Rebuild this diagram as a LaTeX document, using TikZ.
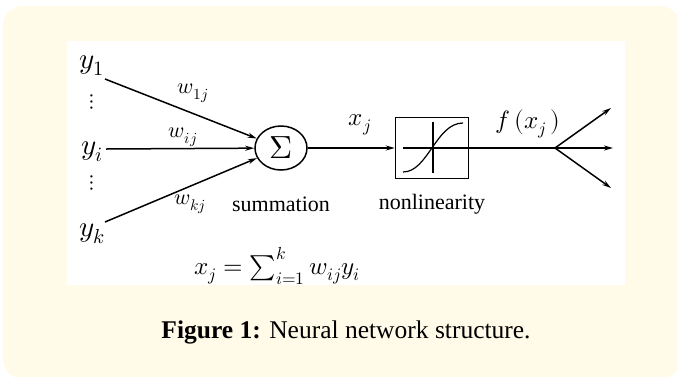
\documentclass[tikz,border=0pt]{standalone}
\usepackage{fontspec}
\setmainfont{Liberation Serif}
\usepackage{unicode-math}
\setmathfont{Latin Modern Math}
\usetikzlibrary{arrows.meta,shapes.geometric}
\definecolor{cream}{HTML}{FFFBE8}
\tikzset{
  conn/.style={line width=1.5pt,-{Stealth[length=9pt,width=5pt]}},
  plain/.style={line width=1.5pt},
  lbl/.style={inner sep=0pt},
  ylbl/.style={lbl,font=\fontsize{29}{29}\selectfont},
  wlbl/.style={lbl,font=\fontsize{22}{22}\selectfont},
  word/.style={lbl,font=\fontsize{22}{22}\selectfont},
}
\begin{document}
\begin{tikzpicture}[x=1pt,y=-1pt]
\useasboundingbox (0,0) rectangle (677,376);
\fill[white] (0,0) rectangle (677,376);
\fill[cream,rounded corners=20pt] (3,6) rectangle (680,379);
\fill[white] (67,41) rectangle (625,285);
% inputs
\node[ylbl] (y1) at (92,66) {$y_1$};
\node[ylbl] (yi) at (92,152) {$y_i$};
\node[ylbl] (yk) at (92,234) {$y_k$};
\node[lbl,font=\fontsize{22}{22}\selectfont] (d1) at (92,102) {$\vdots$};
\node[lbl,font=\fontsize{22}{22}\selectfont] (d2) at (92,183) {$\vdots$};
\coordinate (s1) at (105,79);
\coordinate (si) at (106,149);
\coordinate (sk) at (105,222);
% summation
\node[ellipse,draw,line width=1.5pt,minimum width=52pt,minimum height=44pt,inner sep=0pt,font=\fontsize{32}{32}\selectfont] (sig) at (281,148) {$\Sigma$};
\draw[conn] (s1) -- (sig);
\draw[conn] (si) -- (sig);
\draw[conn] (sk) -- (sig);
\node[wlbl] (w1) at (193,93) {$w_{1j}$};
\node[wlbl] (wi) at (183,137) {$w_{ij}$};
\node[wlbl] (wk) at (190,204) {$w_{kj}$};
\node[word] (sumlbl) at (281,204) {summation};
% nonlinearity
\node[rectangle,draw,line width=1.5pt,minimum width=73pt,minimum height=61pt,inner sep=0pt] (box) at (432,148) {};
\draw[conn] (sig) -- (box);
\node[lbl,font=\fontsize{25}{25}\selectfont] (xj) at (360,125) {$x_j$};
\draw[line width=1.2pt] (403,148) -- (box.east);
\draw[line width=1.2pt] (433,122) -- (433,173);
\draw[line width=1.2pt] (403,172) .. controls (428,172) and (436,123) .. (463,123);
\node[word] (nllbl) at (432,204) {nonlinearity};
% output
\coordinate (br) at (555,148);
\coordinate (o1) at (611,108);
\coordinate (o2) at (613,148);
\coordinate (o3) at (611,188);
\draw[plain] (box) -- (br);
\draw[conn] (br) -- (o1);
\draw[conn] (br) -- (o2);
\draw[conn] (br) -- (o3);
\node[lbl,font=\fontsize{25}{25}\selectfont] (fx) at (528,124) {$f\,(x_{j}\,)$};
% formula
\node[lbl,font=\fontsize{25}{25}\selectfont] (eq) at (277,266) {$x_j=\sum_{i=1}^{k} w_{ij}y_i$};
% caption
\node[lbl,font=\fontsize{25.5}{25.5}\selectfont] (cap) at (346,332) {\textbf{Figure 1:} Neural network structure.};
\end{tikzpicture}
\end{document}
